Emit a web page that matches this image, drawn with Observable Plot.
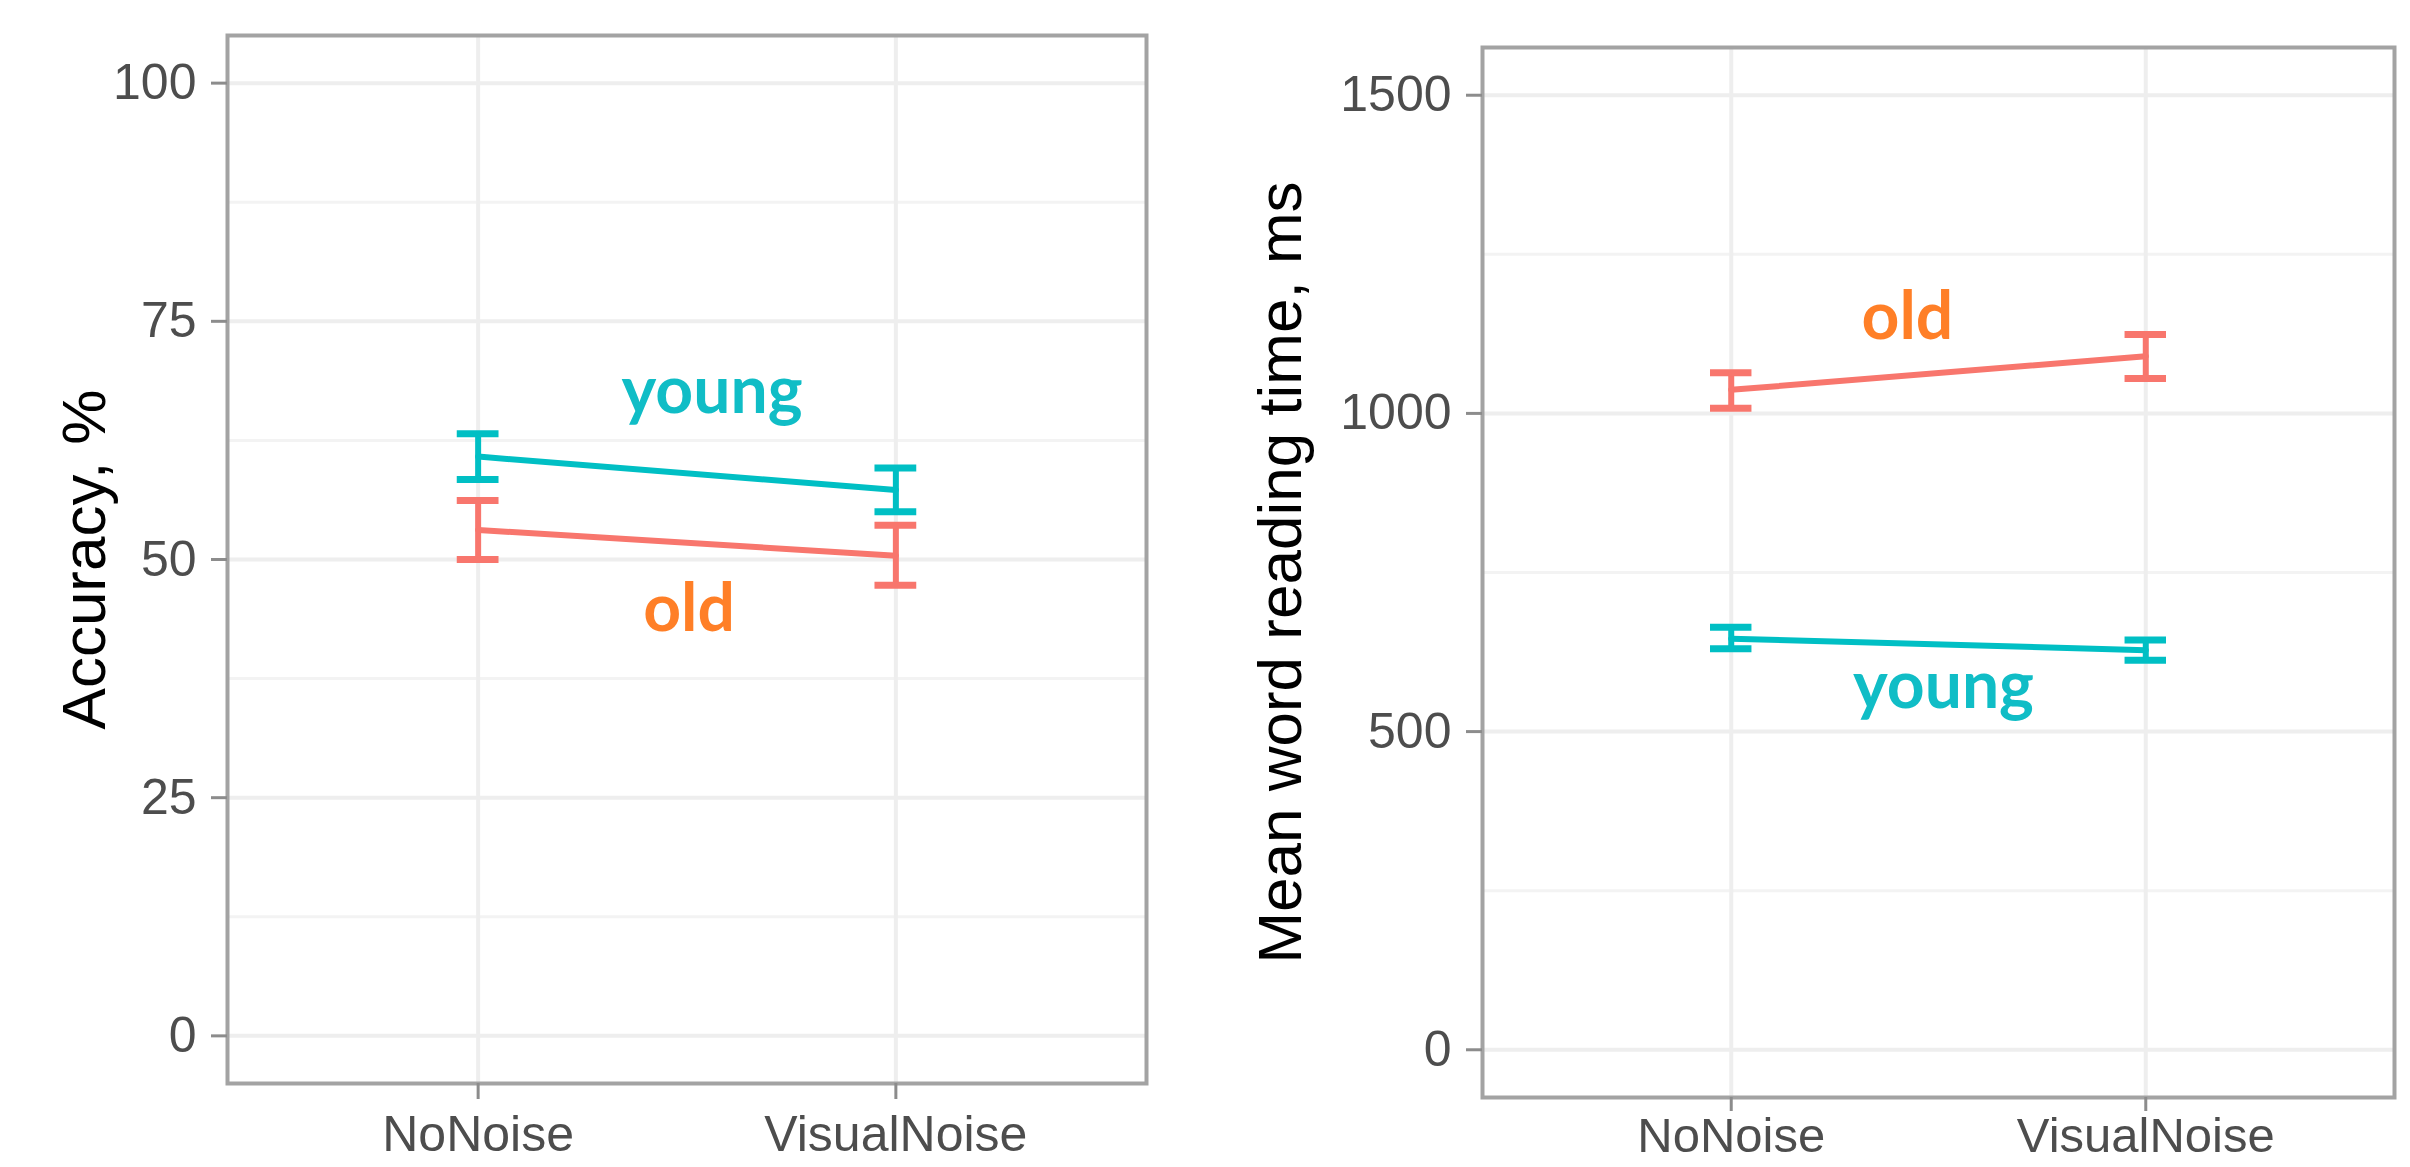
<!DOCTYPE html>
<html><head><meta charset="utf-8">
<script src="https://cdn.jsdelivr.net/npm/d3@7"></script>
<script src="https://cdn.jsdelivr.net/npm/@observablehq/plot@0.6"></script>
<style>
html,body{margin:0;padding:0;background:#fff;}
#wrap{position:relative;width:2410px;height:1167px;overflow:hidden;background:#fff;}
#left{position:absolute;left:0;top:0;}
#right{position:absolute;left:1200px;top:0;}
</style></head><body><div id="wrap"><div id="left"></div><div id="right"></div></div>
<script>
// ---- data ----
const conditions = ["NoNoise", "VisualNoise"];
const groups = ["young", "old"];

// Accuracy, %
const accYoungMean = [60.8, 57.3];
const accYoungLow  = [58.4, 55.0];
const accYoungHigh = [63.2, 59.6];
const accOldMean   = [53.1, 50.4];
const accOldLow    = [50.0, 47.3];
const accOldHigh   = [56.2, 53.6];
const accTicks = [0, 25, 50, 75, 100];
const accMinor = [12.5, 37.5, 62.5, 87.5];

// Mean word reading time, ms
const rtYoungMean = [646, 628];
const rtYoungLow  = [630, 612];
const rtYoungHigh = [664, 644];
const rtOldMean   = [1037, 1090];
const rtOldLow    = [1008, 1055];
const rtOldHigh   = [1064, 1124];
const rtTicks = [0, 500, 1000, 1500];
const rtMinor = [250, 750, 1250];

// group label annotations (x in category units, y = baseline value)
const accLabelX = [1.56, 1.505];   // young, old
const accLabelY = [65.4, 42.5];
const rtLabelX  = [1.512, 1.425];  // young, old
const rtLabelY  = [537, 1117];

const lineColors  = ["#00BFC4", "#F8766D"]; // young, old
const labelColors = ["#10BDC6", "#FF7F27"];

function rows(yM, yL, yH, oM, oL, oH) {
  const r = [];
  conditions.forEach((c, i) => {
    r.push({x: i + 1, cond: c, group: "young", mean: yM[i], lo: yL[i], hi: yH[i]});
    r.push({x: i + 1, cond: c, group: "old", mean: oM[i], lo: oL[i], hi: oH[i]});
  });
  return r;
}

function panel(o) {
  const data = o.data;
  const capW = 0.05;
  const marks = [
    Plot.gridY(o.minor, {stroke: "#F3F3F3", strokeOpacity: 1, strokeWidth: 3}),
    Plot.gridY(o.ticks, {stroke: "#EEEEEE", strokeOpacity: 1, strokeWidth: 4}),
    Plot.gridX([1, 2], {stroke: "#EEEEEE", strokeOpacity: 1, strokeWidth: 4}),
    Plot.frame({stroke: "#A3A3A3", strokeWidth: 4}),
    Plot.axisY(o.ticks, {tickSize: 16, tickPadding: 15, fontSize: 50, fill: "#4D4D4D", stroke: "#8C8C8C", strokeWidth: 3, tickFormat: d => String(d), label: null}),
    Plot.axisX([1, 2], {tickSize: o.xTick, tickPadding: o.xPad, fontSize: o.xFont, fill: "#4D4D4D", stroke: "#8C8C8C", strokeWidth: 3, tickFormat: d => conditions[d - 1], label: null}),
    Plot.line(data, {x: "x", y: "mean", z: "group", stroke: "group", strokeWidth: 6}),
    Plot.ruleX(data, {x: "x", y1: "lo", y2: "hi", stroke: "group", strokeWidth: 6}),
    Plot.ruleY(data, {y: "hi", x1: d => d.x - capW, x2: d => d.x + capW, stroke: "group", strokeWidth: 7}),
    Plot.ruleY(data, {y: "lo", x1: d => d.x - capW, x2: d => d.x + capW, stroke: "group", strokeWidth: 7}),
    Plot.text([groups[0]], {x: o.labelX[0], y: o.labelY[0], text: d => d, fill: labelColors[0], fontSize: 66, fontWeight: "bold", fontFamily: "Lato", lineAnchor: "bottom"}),
    Plot.text([groups[1]], {x: o.labelX[1], y: o.labelY[1], text: d => d, fill: labelColors[1], fontSize: 66, fontWeight: "bold", fontFamily: "Lato", lineAnchor: "bottom"}),
    Plot.text([o.title], {frameAnchor: "left", dx: o.titleDx, rotate: -90, text: d => d, fill: "#000", fontSize: 62, textAnchor: "middle", lineAnchor: "middle"})
  ];
  return Plot.plot({
    width: o.width, height: 1167,
    marginLeft: o.ml, marginRight: o.mr, marginTop: o.mt, marginBottom: o.mb,
    style: {fontFamily: "'Liberation Sans', Arial, sans-serif", background: "transparent", overflow: "visible"},
    x: {type: "linear", domain: [0.4, 2.6], axis: null},
    y: {domain: o.domain, axis: null},
    color: {domain: ["young", "old"], range: lineColors},
    marks
  });
}

document.getElementById("left").append(panel({
  data: rows(accYoungMean, accYoungLow, accYoungHigh, accOldMean, accOldLow, accOldHigh),
  ticks: accTicks, minor: accMinor, domain: [-5, 105],
  labelX: accLabelX, labelY: accLabelY,
  title: "Accuracy, %", titleDx: -142, xTick: 16, xPad: 16, xFont: 50,
  width: 1200, ml: 227, mr: 54, mt: 35, mb: 84
}));

document.getElementById("right").append(panel({
  data: rows(rtYoungMean, rtYoungLow, rtYoungHigh, rtOldMean, rtOldLow, rtOldHigh),
  ticks: rtTicks, minor: rtMinor, domain: [-75, 1575],
  labelX: rtLabelX, labelY: rtLabelY,
  title: "Mean word reading time, ms", titleDx: -201, xTick: 14, xPad: 6, xFont: 49,
  width: 1210, ml: 282, mr: 16, mt: 47, mb: 70
}));
</script></body></html>
